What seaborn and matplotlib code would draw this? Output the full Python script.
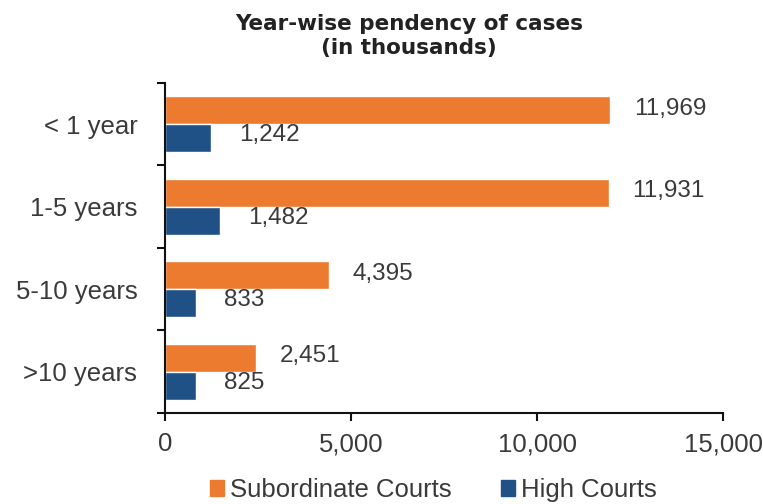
import matplotlib
matplotlib.use("Agg")
import matplotlib.pyplot as plt
import seaborn as sns
import pandas as pd

categories = ["< 1 year", "1-5 years", "5-10 years", ">10 years"]
subordinate = [11969, 11931, 4395, 2451]
high = [1242, 1482, 833, 825]
series_names = ["Subordinate Courts", "High Courts"]
colors = ["#EC7B30", "#1F5186"]
x_ticks = [0, 5000, 10000, 15000]

df = pd.DataFrame({
    "category": categories * 2,
    "value": subordinate + high,
    "series": [series_names[0]] * 4 + [series_names[1]] * 4,
})

sns.set_style("white")
plt.rcParams["font.family"] = ["Liberation Sans", "DejaVu Sans"]
txt = "#3a3a3a"
fs = 18.5

fig = plt.figure(figsize=(7.63, 5.04), dpi=100)
ax = fig.add_axes([0.2163, 0.1806, 0.7313, 0.6548])
sns.barplot(data=df, y="category", x="value", hue="series", order=categories,
            hue_order=series_names, palette=colors, orient="h", width=0.68,
            saturation=1, ax=ax, legend=True)

ax.set_xlim(0, 15000)
ax.set_ylim(3.5, -0.5)
ax.set_xticks(x_ticks)
ax.set_xticklabels([f"{v:,}" for v in x_ticks])
ax.set_xlabel("")
ax.set_ylabel("")
for s in ["top", "right"]:
    ax.spines[s].set_visible(False)
for s in ["left", "bottom"]:
    ax.spines[s].set_color("#111111")
    ax.spines[s].set_linewidth(1.5)
ax.tick_params(axis="x", which="major", bottom=True, direction="out", length=6,
               width=1.5, color="#111111", labelsize=fs, labelcolor=txt, pad=8)
ax.tick_params(axis="y", which="major", left=True, length=0, labelsize=fs,
               labelcolor=txt, pad=20)
ax.set_yticks([-0.5, 0.5, 1.5, 2.5, 3.5], minor=True)
ax.tick_params(axis="y", which="minor", left=True, direction="out", length=6,
               width=1.5, color="#111111")

# value labels
for ci, cont in enumerate(ax.containers):
    for p in cont.patches:
        w = p.get_width()
        yc = p.get_y() + p.get_height() / 2
        off = (17, 1) if ci == 0 else (20, 2)
        ax.annotate(f"{w:,.0f}", xy=(w, yc), xytext=off, textcoords="offset points",
                    ha="left", va="center", fontsize=17.5, color=txt)

fig.text(0.536, 0.952, "Year-wise pendency of cases", ha="center", va="center",
         fontsize=15.5, fontweight="bold", color="#222222",
         family=["DejaVu Sans"])
fig.text(0.536, 0.905, "(in thousands)", ha="center", va="center",
         fontsize=15.5, fontweight="bold", color="#222222",
         family=["DejaVu Sans"])

leg = ax.get_legend()
if leg is not None:
    leg.remove()
handles = [plt.Rectangle((0, 0), 1, 1, color=c) for c in colors]
fig.legend(handles, series_names, loc="center", bbox_to_anchor=(0.568, 0.028),
           ncol=2, frameon=False, fontsize=fs, handlelength=0.55, handleheight=0.55,
           handletextpad=0.25, columnspacing=1.9, labelcolor=txt, borderpad=0.1)

fig.savefig("out.png", dpi=100)
